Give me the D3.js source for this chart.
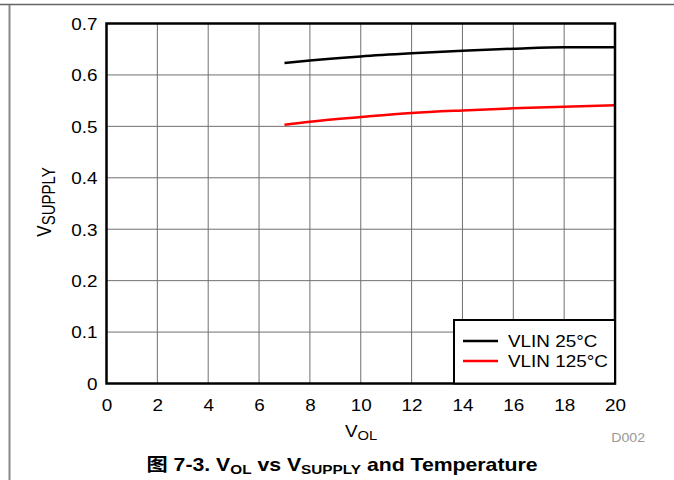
<!DOCTYPE html>
<html><head><meta charset="utf-8">
<script src="https://cdn.jsdelivr.net/npm/d3@7"></script>
<style>body{margin:0;background:#fff}svg{display:block;font-family:"Liberation Sans",Arial,sans-serif}</style>
</head><body>
<svg id="c" width="674" height="480"></svg>
<script>
const xTicks = [0,2,4,6,8,10,12,14,16,18,20];
const yTicks = [0,0.1,0.2,0.3,0.4,0.5,0.6,0.7];
const vol = [7, 8, 10, 12, 14, 16, 18, 20];
const vlin25 = [0.623, 0.628, 0.636, 0.642, 0.647, 0.651, 0.654, 0.654];
const vlin125 = [0.503, 0.509, 0.518, 0.526, 0.531, 0.535, 0.538, 0.541];
const seriesNames = ["VLIN 25°C", "VLIN 125°C"];
const seriesColors = ["#000000", "#ff0000"];

const K = 1.18; // horizontal glyph stretch
const svg = d3.select("#c");
const L = 106.5, R = 615, T = 23.5, B = 383.5;
const x = d3.scaleLinear().domain([0,20]).range([L,R]);
const y = d3.scaleLinear().domain([0,0.7]).range([B,T]);

function txt(parent, px, py, size, anchor){
  return parent.append("text").attr("transform",`translate(${px},${py}) scale(${K},1)`)
    .attr("font-size",size).attr("text-anchor",anchor||"start");
}

// page borders
svg.append("line").attr("x1",0).attr("x2",674).attr("y1",4.5).attr("y2",4.5).attr("stroke","#666").attr("stroke-width",1.5);
svg.append("line").attr("x1",9.5).attr("x2",9.5).attr("y1",5).attr("y2",480).attr("stroke","#888").attr("stroke-width",2);

// grid
const g = svg.append("g");
g.selectAll(".gx").data(xTicks.slice(1,-1)).enter().append("line")
  .attr("x1",d=>x(d)).attr("x2",d=>x(d)).attr("y1",T).attr("y2",B)
  .attr("stroke","#707070").attr("stroke-width",1);
g.selectAll(".gy").data(yTicks.slice(1,-1)).enter().append("line")
  .attr("y1",d=>y(d)).attr("y2",d=>y(d)).attr("x1",L).attr("x2",R)
  .attr("stroke","#707070").attr("stroke-width",1);

// axes labels via d3 axes
const xa = svg.append("g").attr("transform",`translate(0,${B})`)
  .call(d3.axisBottom(x).tickValues(xTicks).tickSize(0).tickFormat(d3.format("d")));
const ya = svg.append("g").attr("transform",`translate(${L},0)`)
  .call(d3.axisLeft(y).tickValues(yTicks).tickSize(0).tickFormat(d=>d===0?"0":d3.format(".1f")(d)));
[xa,ya].forEach(a=>{a.select(".domain").remove();a.selectAll("text").attr("font-size",16).attr("fill","#000").attr("font-family","Liberation Sans, Arial, sans-serif");});
xa.selectAll("text").attr("y",null).attr("dy",null).attr("transform",`translate(0,27.5) scale(${K},1)`);
ya.selectAll("text").attr("x",null).attr("dy",null).attr("transform",`translate(-9,5.8) scale(${K},1)`);

// lines
const line = d3.line().x((d,i)=>x(vol[i])).y(d=>y(d)).curve(d3.curveMonotoneX);
[vlin25, vlin125].forEach((s,i)=>{
  svg.append("path").attr("d",line(s)).attr("fill","none").attr("stroke",seriesColors[i]).attr("stroke-width",2.5);
});

// frame
svg.append("rect").attr("x",L).attr("y",T).attr("width",R-L).attr("height",B-T)
  .attr("fill","none").attr("stroke","#000").attr("stroke-width",2.5);

// legend
const lg = svg.append("g");
lg.append("rect").attr("x",454).attr("y",320).attr("width",R-454).attr("height",B-320)
  .attr("fill","#fff").attr("stroke","#000").attr("stroke-width",2);
seriesNames.forEach((n,i)=>{
  const yy = 341 + i*20;
  lg.append("line").attr("x1",463).attr("x2",498).attr("y1",yy).attr("y2",yy).attr("stroke",seriesColors[i]).attr("stroke-width",2.5);
  txt(lg, 508, yy+6, 16).text(n);
});

// axis titles
const xt = txt(svg, 361, 437, 16, "middle");
xt.append("tspan").text("V");
xt.append("tspan").attr("font-size",12.5).attr("dy",3).text("OL");

const yt = svg.append("text").attr("transform",`translate(51,202) rotate(-90) scale(1,${K})`).attr("text-anchor","middle").attr("font-size",17);
yt.append("tspan").text("V");
yt.append("tspan").attr("font-size",15).attr("dy",3).text("SUPPLY");

txt(svg, 645, 442, 12, "end").attr("fill","#999").text("D002");

// caption
const cap = txt(svg, 342, 471, 18, "middle").attr("font-weight","bold")
  .attr("font-family","Liberation Sans, Arial, 'Noto Sans CJK SC', sans-serif");
cap.append("tspan").text("图 7-3. V");
cap.append("tspan").attr("font-size",13).attr("dy",3).text("OL");
cap.append("tspan").attr("dy",-3).text(" vs V");
cap.append("tspan").attr("font-size",13).attr("dy",3).text("SUPPLY");
cap.append("tspan").attr("dy",-3).text(" and Temperature");
</script>
</body></html>
